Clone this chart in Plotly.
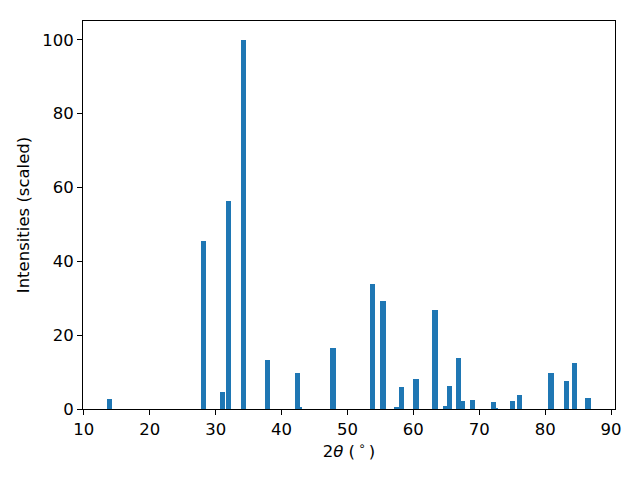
import plotly.graph_objects as go

two_theta = [13.9, 28.16, 31.07, 31.95, 34.23, 37.88, 42.43, 42.75, 47.8, 53.82,
             55.4, 57.45, 58.2, 60.4, 63.3, 64.9, 65.45, 66.8, 67.43, 68.95,
             72.13, 72.45, 75.0, 76.1, 80.9, 83.2, 84.5, 86.5]
intensity = [2.7, 45.5, 4.6, 56.4, 100.0, 13.3, 9.75, 0.3, 16.5, 33.9,
             29.3, 0.3, 6.0, 8.1, 26.8, 0.8, 6.2, 13.8, 2.2, 2.4,
             1.9, 0.2, 2.2, 3.8, 9.75, 7.6, 12.5, 3.0]
x_ticks = [10, 20, 30, 40, 50, 60, 70, 80, 90]
y_ticks = [0, 20, 40, 60, 80, 100]

font = dict(family="DejaVu Sans", size=16.5, color="black")

fig = go.Figure(go.Bar(x=two_theta, y=intensity, width=0.8,
                       marker=dict(color="#1f77b4", line=dict(width=0))))

fig.update_layout(
    width=632, height=472,
    margin=dict(l=75, r=25, t=13, b=71),
    plot_bgcolor="white", paper_bgcolor="white",
    font=font, showlegend=False, barmode="overlay", bargap=0,
)
axis_common = dict(showline=True, linecolor="black", linewidth=1.1, mirror=True,
                   ticks="outside", ticklen=5, tickwidth=1.1, tickcolor="black",
                   showgrid=False, zeroline=False, tickfont=font, automargin=False)
fig.update_xaxes(range=[9.87, 90.6], tickvals=x_ticks,
                 title=dict(text="2<i>θ</i> (\u2009<sup>∘</sup>\u2009)", font=font, standoff=6),
                 **axis_common)
fig.update_yaxes(range=[0, 105.1], tickvals=y_ticks,
                 title=dict(text="Intensities (scaled)", font=font, standoff=8),
                 **axis_common)

fig.write_html("out.html")
